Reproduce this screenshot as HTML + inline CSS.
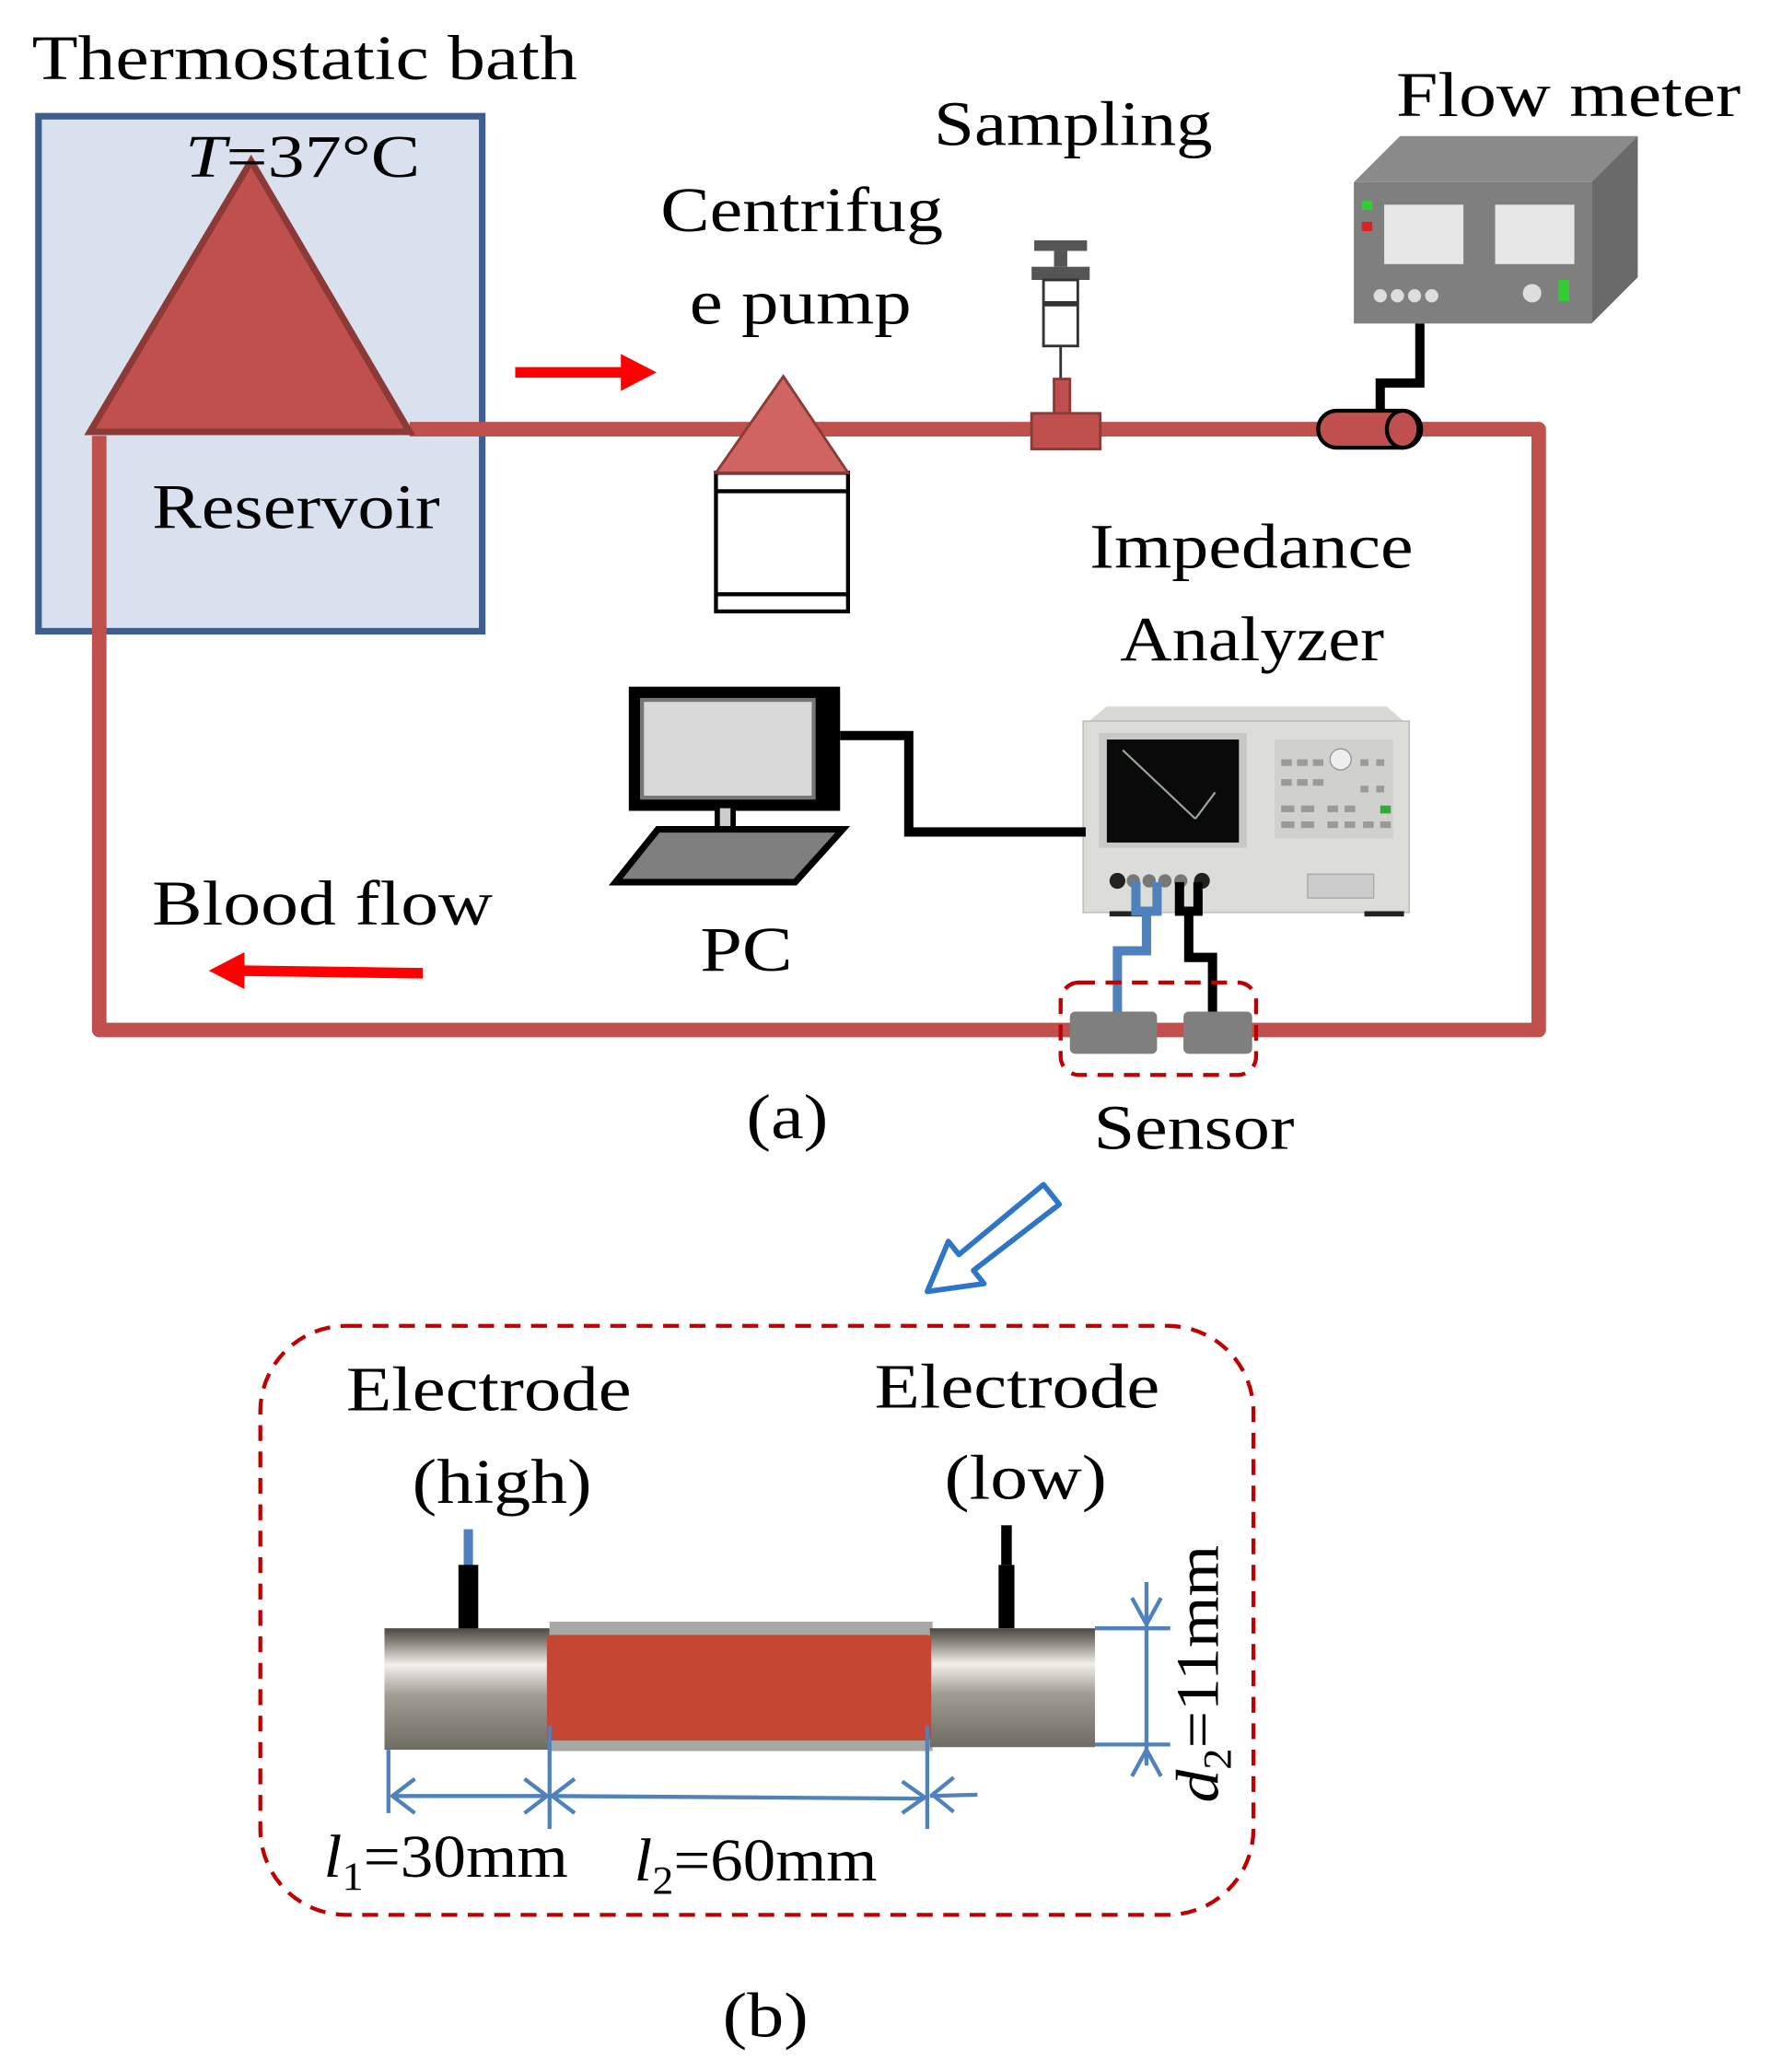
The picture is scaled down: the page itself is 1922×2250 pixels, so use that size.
<!DOCTYPE html>
<html><head><style>html,body{margin:0;padding:0;background:#fff}svg{display:block}</style></head><body>
<svg width="1922" height="2250" viewBox="0 0 1340 1569" xmlns="http://www.w3.org/2000/svg" font-family="Liberation Serif, serif">
<defs>
<linearGradient id="metal" x1="0" y1="0" x2="0" y2="1">
<stop offset="0" stop-color="#4a4842"/><stop offset="0.12" stop-color="#8a877e"/><stop offset="0.3" stop-color="#f2f0ea"/><stop offset="0.55" stop-color="#a09d94"/><stop offset="1" stop-color="#6e6b63"/>
</linearGradient>
</defs>
<rect x="29" y="88" width="336" height="390" fill="#d9e1ee" stroke="#3e5f8e" stroke-width="5"/>
<text x="24" y="60" font-size="48" textLength="413" lengthAdjust="spacingAndGlyphs">Thermostatic  bath</text>
<g stroke="#c0504d" stroke-width="11" fill="none" stroke-linejoin="round">
<path d="M75 330 L75 780 L1165 780 L1165 325 L310 325"/>
</g>
<polygon points="190,122 310,327 68,327" fill="#c0504d" stroke="#8c3a37" stroke-width="5"/>
<text x="140" y="134" font-size="46" textLength="178" lengthAdjust="spacingAndGlyphs"><tspan font-style="italic">T</tspan>=37°C</text>
<text x="115" y="400" font-size="48" textLength="218" lengthAdjust="spacingAndGlyphs">Reservoir</text>
<line x1="390" y1="282" x2="475" y2="282" stroke="#f00" stroke-width="8"/>
<polygon points="470,268 497,282 470,296" fill="#f00"/>
<line x1="320" y1="737" x2="180" y2="735" stroke="#f00" stroke-width="8"/>
<polygon points="185,721 158,735 185,749" fill="#f00"/>
<text x="500" y="175" font-size="48" textLength="214" lengthAdjust="spacingAndGlyphs">Centrifug</text>
<text x="522" y="245" font-size="48" textLength="168" lengthAdjust="spacingAndGlyphs">e pump</text>
<rect x="542" y="358" width="100" height="105" fill="#fff" stroke="#000" stroke-width="3"/>
<line x1="542" y1="372" x2="642" y2="372" stroke="#000" stroke-width="3"/>
<line x1="542" y1="450" x2="642" y2="450" stroke="#000" stroke-width="3"/>
<polygon points="593,285 642,358 542,358" fill="#d06460" stroke="#8c3a37" stroke-width="2"/>
<text x="707" y="110" font-size="48" textLength="211" lengthAdjust="spacingAndGlyphs">Sampling</text>
<rect x="783" y="182" width="40" height="8" fill="#555"/>
<rect x="798" y="190" width="10" height="12" fill="#555"/>
<rect x="781" y="202" width="44" height="10" fill="#555"/>
<rect x="790" y="212" width="26" height="50" fill="#fff" stroke="#333" stroke-width="2"/>
<line x1="790" y1="230" x2="816" y2="230" stroke="#333" stroke-width="4"/>
<line x1="803" y1="262" x2="803" y2="292" stroke="#333" stroke-width="2"/>
<rect x="798" y="287" width="12" height="28" fill="#c0504d" stroke="#8c3a37" stroke-width="2"/>
<rect x="781" y="313" width="52" height="27" fill="#c0504d" stroke="#8c3a37" stroke-width="2"/>
<text x="1057" y="88" font-size="48" textLength="261" lengthAdjust="spacingAndGlyphs">Flow meter</text>
<polygon points="1025,138 1060,103 1240,103 1205,138" fill="#8a8a8a"/>
<polygon points="1205,138 1240,103 1240,210 1205,245" fill="#6a6a6a"/>
<rect x="1025" y="138" width="180" height="107" fill="#7f7f7f"/>
<rect x="1048" y="155" width="60" height="45" fill="#e6e6e6"/>
<rect x="1132" y="155" width="60" height="45" fill="#e6e6e6"/>
<rect x="1031" y="152" width="8" height="7" fill="#3c3"/><rect x="1031" y="168" width="8" height="7" fill="#d22"/>
<g fill="#ddd"><circle cx="1045" cy="224" r="5"/><circle cx="1058" cy="224" r="5"/><circle cx="1071" cy="224" r="5"/><circle cx="1084" cy="224" r="5"/><circle cx="1160" cy="222" r="7"/></g>
<rect x="1180" y="212" width="8" height="16" fill="#3c3"/>
<path d="M1075 245 L1075 290 L1045 290 L1045 322" stroke="#000" stroke-width="7" fill="none"/>
<rect x="998" y="311" width="78" height="28" rx="14" fill="#c0504d" stroke="#000" stroke-width="3"/>
<ellipse cx="1062" cy="325" rx="12" ry="14" fill="#c0504d" stroke="#000" stroke-width="3"/>
<text x="825" y="430" font-size="48" textLength="245" lengthAdjust="spacingAndGlyphs">Impedance</text>
<text x="848" y="500" font-size="48" textLength="200" lengthAdjust="spacingAndGlyphs">Analyzer</text>
<polygon points="838,535 1050,535 1065,548 822,548" fill="#d8d8d4"/>
<rect x="820" y="546" width="247" height="145" fill="#dcdcd8" stroke="#bbb" stroke-width="1"/>
<rect x="832" y="555" width="112" height="87" fill="#c8c8c4"/>
<rect x="838" y="560" width="100" height="78" fill="#0a0a0a"/>
<line x1="850" y1="568" x2="905" y2="620" stroke="#9a9" stroke-width="1.5"/>
<line x1="905" y1="620" x2="920" y2="600" stroke="#9a9" stroke-width="1.5"/>
<rect x="965" y="560" width="90" height="75" fill="#d0d0cc"/>
<g fill="#9a9a96"><rect x="970" y="575" width="8" height="5"/><rect x="982" y="575" width="8" height="5"/><rect x="994" y="575" width="8" height="5"/><rect x="970" y="590" width="8" height="5"/><rect x="982" y="590" width="8" height="5"/><rect x="994" y="590" width="8" height="5"/><rect x="970" y="610" width="10" height="5"/><rect x="985" y="610" width="10" height="5"/><rect x="970" y="622" width="10" height="5"/><rect x="985" y="622" width="10" height="5"/><rect x="1030" y="575" width="6" height="5"/><rect x="1042" y="575" width="6" height="5"/><rect x="1030" y="595" width="6" height="5"/><rect x="1042" y="595" width="6" height="5"/><rect x="1005" y="610" width="8" height="5"/><rect x="1018" y="610" width="8" height="5"/><rect x="1005" y="622" width="8" height="5"/><rect x="1018" y="622" width="8" height="5"/><rect x="1032" y="622" width="8" height="5"/><rect x="1045" y="622" width="8" height="5"/></g>
<circle cx="1015" cy="575" r="8" fill="#eee" stroke="#999"/>
<rect x="1045" y="610" width="8" height="6" fill="#3a3"/>
<rect x="990" y="662" width="50" height="18" fill="#ccc" stroke="#aaa"/>
<g fill="#222"><circle cx="846" cy="667" r="6"/><circle cx="910" cy="667" r="6"/></g>
<g fill="#777"><circle cx="858" cy="667" r="5"/><circle cx="870" cy="667" r="5"/><circle cx="882" cy="667" r="5"/><circle cx="894" cy="667" r="5"/></g>
<rect x="840" y="690" width="30" height="4" fill="#222"/><rect x="1033" y="690" width="30" height="4" fill="#222"/>
<path d="M860 668 L860 690 L876 690 L876 668 M868 690 L868 720 L846 720 L846 770" stroke="#4f81bd" stroke-width="7" fill="none"/>
<path d="M893 668 L893 690 L907 690 L907 668 M900 690 L900 725 L918 725 L918 770" stroke="#000" stroke-width="7" fill="none"/>
<rect x="476" y="520" width="160" height="94" fill="#000"/>
<rect x="486" y="530" width="130" height="74" fill="#d9d9d9" stroke="#777" stroke-width="3"/>
<rect x="541" y="608" width="16" height="35" fill="#000"/><rect x="545" y="612" width="8" height="26" fill="#ccc"/>
<polygon points="498,628 638,628 602,668 466,668" fill="#7f7f7f" stroke="#000" stroke-width="5"/>
<path d="M636 557 L688 557 L688 630 L822 630" stroke="#000" stroke-width="7" fill="none"/>
<text x="530" y="735" font-size="48" textLength="70" lengthAdjust="spacingAndGlyphs">PC</text>
<text x="115" y="700" font-size="48" textLength="258" lengthAdjust="spacingAndGlyphs">Blood  flow</text>
<rect x="803" y="744" width="148" height="70" rx="14" fill="none" stroke="#c00000" stroke-width="3" stroke-dasharray="12,8"/>
<rect x="810" y="766" width="66" height="32" rx="4" fill="#7f7f7f"/>
<rect x="896" y="766" width="52" height="32" rx="4" fill="#7f7f7f"/>
<text x="565" y="862" font-size="48" textLength="62" lengthAdjust="spacingAndGlyphs">(a)</text>
<text x="828" y="870" font-size="48" textLength="152" lengthAdjust="spacingAndGlyphs">Sensor</text>
<polygon points="790,897 802,912 737,962 745,972 702,978 718,940 726,950" fill="#fff" stroke="#2e75c6" stroke-width="4" stroke-linejoin="round"/>
<rect x="197" y="1004" width="752" height="446" rx="65" fill="none" stroke="#c00000" stroke-width="3" stroke-dasharray="12,8"/>
<text x="262" y="1068" font-size="48" textLength="216" lengthAdjust="spacingAndGlyphs">Electrode</text>
<text x="312" y="1138" font-size="48" textLength="136" lengthAdjust="spacingAndGlyphs">(high)</text>
<text x="662" y="1066" font-size="48" textLength="216" lengthAdjust="spacingAndGlyphs">Electrode</text>
<text x="715" y="1135" font-size="48" textLength="123" lengthAdjust="spacingAndGlyphs">(low)</text>
<rect x="351" y="1158" width="7" height="30" fill="#4f81bd"/>
<rect x="347" y="1185" width="15" height="50" fill="#000"/>
<rect x="758" y="1155" width="8" height="30" fill="#000"/>
<rect x="756" y="1185" width="12" height="48" fill="#000"/>
<rect x="291" y="1233" width="125" height="92" fill="url(#metal)"/>
<rect x="416" y="1228" width="290" height="98" fill="#a7a7a3"/>
<rect x="704" y="1233" width="125" height="90" fill="url(#metal)"/>
<rect x="414" y="1238" width="291" height="80" rx="3" fill="#c54632"/>
<g stroke="#4f81bd" stroke-width="3" fill="none">
<line x1="294" y1="1325" x2="294" y2="1373"/>
<line x1="416" y1="1307" x2="416" y2="1385"/>
<line x1="702" y1="1307" x2="702" y2="1385"/>
<line x1="297" y1="1360" x2="414" y2="1360"/>
<line x1="418" y1="1360" x2="700" y2="1362"/>
<line x1="704" y1="1360" x2="740" y2="1359"/>
<path d="M314 1347 L297 1360 L314 1373 M397 1347 L414 1360 L397 1373 M435 1347 L418 1360 L435 1373 M683 1349 L700 1361 L683 1373 M722 1346 L706 1359 L722 1372"/>
<line x1="829" y1="1233" x2="886" y2="1233"/>
<line x1="829" y1="1321" x2="886" y2="1321"/>
<line x1="868" y1="1198" x2="868" y2="1337"/>
<path d="M857 1210 L868 1230 L879 1210 M857 1345 L868 1325 L879 1345"/>
</g>
<text x="245" y="1421" font-size="46" textLength="185" lengthAdjust="spacingAndGlyphs"><tspan font-style="italic">l</tspan><tspan font-size="30" dy="10">1</tspan><tspan dy="-10">=30mm</tspan></text>
<text x="480" y="1424" font-size="46" textLength="184" lengthAdjust="spacingAndGlyphs"><tspan font-style="italic">l</tspan><tspan font-size="30" dy="10">2</tspan><tspan dy="-10">=60mm</tspan></text>
<text transform="translate(922,1365) rotate(-90)" font-size="46" textLength="195" lengthAdjust="spacingAndGlyphs"><tspan font-style="italic">d</tspan><tspan font-size="30" dy="10">2</tspan><tspan dy="-10">=11mm</tspan></text>
<text x="547" y="1542" font-size="48" textLength="65" lengthAdjust="spacingAndGlyphs">(b)</text>
</svg>
</body></html>
